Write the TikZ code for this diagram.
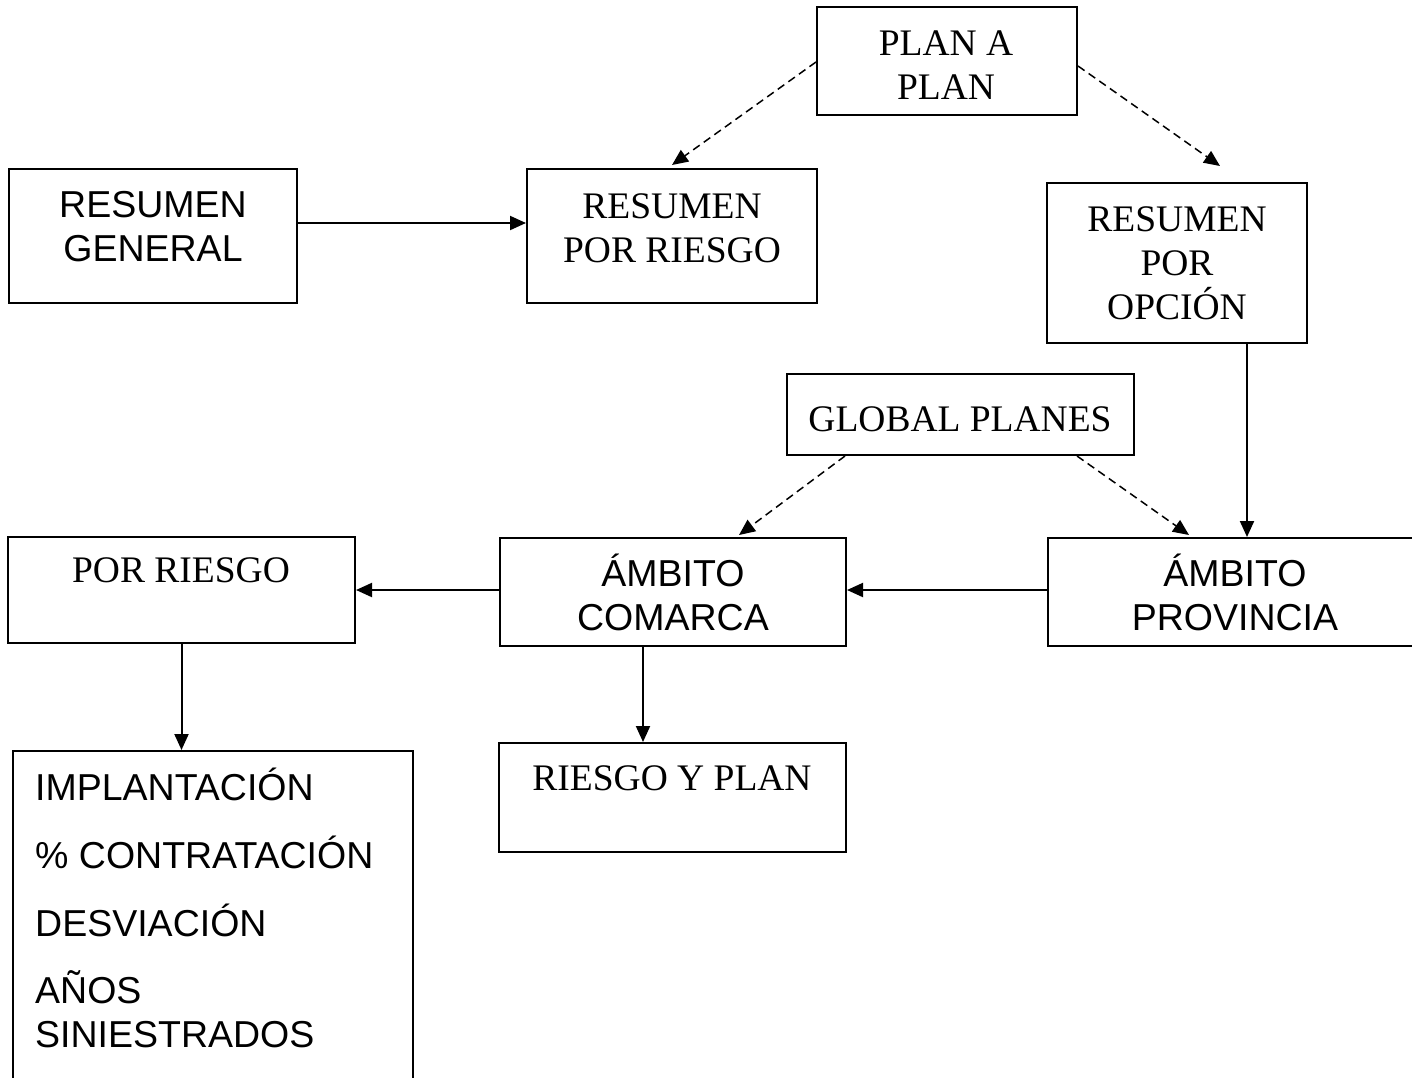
\documentclass[tikz,border=0pt]{standalone}
\usepackage{fontspec}
\setmainfont{Liberation Serif}
\setsansfont{Liberation Sans}
\usetikzlibrary{arrows.meta}
\begin{document}
\begin{tikzpicture}[x=1pt,y=-1pt,
  box/.style={draw=black,line width=2pt,rectangle,inner sep=0pt,fill=none},
  serif/.style={font=\fontsize{37.5}{44}\selectfont\rmfamily,inner sep=0pt,align=center,anchor=base},
  sans/.style={font=\fontsize{37.5}{44}\selectfont\sffamily,inner sep=0pt,align=center,anchor=base},
  arr/.style={line width=2pt,-{Triangle[length=16pt,width=14pt]}},
  darr/.style={line width=1.5pt,dash pattern=on 8pt off 5pt,-{Triangle[length=16pt,width=14pt]}}]
\useasboundingbox (0,0) rectangle (1412,1077);
\fill[white] (0,0) rectangle (1412,1077);

% boxes
\node[box,minimum width=260pt,minimum height=108pt] (plan) at (947,61) {};
\node[box,minimum width=288pt,minimum height=134pt] (rg) at (153,236) {};
\node[box,minimum width=290pt,minimum height=134pt] (rpr) at (672,236) {};
\node[box,minimum width=260pt,minimum height=160pt] (rpo) at (1177,263) {};
\node[box,minimum width=347pt,minimum height=81pt] (gp) at (960.5,414.5) {};
\node[box,minimum width=347pt,minimum height=106pt] (pr) at (181.5,590) {};
\node[box,minimum width=346pt,minimum height=108pt] (ac) at (673,592) {};
\node[box,minimum width=382pt,minimum height=108pt] (ap) at (1239,592) {};
\node[box,minimum width=400pt,minimum height=349pt] (imp) at (213,925.5) {};
\node[box,minimum width=347pt,minimum height=109pt] (ryp) at (672.5,797.5) {};

% texts (base anchor = last line's baseline)
\node[serif] (plant) at (946,99) {PLAN A\\PLAN};
\node[sans] (rgt) at (153,261) {RESUMEN\\GENERAL};
\node[serif] (rprt) at (672,262) {RESUMEN\\POR RIESGO};
\node[serif] (rpot) at (1177,319) {RESUMEN\\POR\\OPCIÓN};
\node[serif] (gpt) at (960,431) {GLOBAL PLANES};
\node[serif] (prt) at (181,582) {POR RIESGO};
\node[sans] (act) at (673,630) {ÁMBITO\\COMARCA};
\node[sans] (apt) at (1235,630) {ÁMBITO\\PROVINCIA};
\node[serif] (rypt) at (672,790) {RIESGO Y PLAN};
\node[sans,align=left,anchor=base west] (impt) at (35,1047)
  {IMPLANTACIÓN\\[24pt]\% CONTRATACIÓN\\[24pt]DESVIACIÓN\\[23pt]AÑOS\\SINIESTRADOS};

% connectors
\draw[arr] ([yshift=13pt]rg.east) -- ([yshift=13pt]rpr.west);
\draw[darr] ([yshift=-1pt]plan.west) -- ([yshift=3pt]rpr.north);
\draw[darr] ([yshift=-5pt]plan.east) -- ([xshift=43pt,yshift=16pt]rpo.north);
\draw[arr] ([xshift=70pt]rpo.south) -- ([xshift=70pt]rpo.south |- ap.north);
\draw[darr] ([xshift=-115.5pt]gp.south) -- ([xshift=66pt,yshift=2pt]ac.north);
\draw[darr] ([xshift=116.5pt]gp.south) -- ([xshift=-50pt,yshift=2pt]ap.north);
\draw[arr] ([yshift=2pt]ap.west) -- ([yshift=2pt]ac.east);
\draw[arr] ([yshift=2pt]ac.west) -- (pr.east);
\draw[arr] (pr.south) -- (pr.south |- imp.north);
\draw[arr] ([xshift=-30pt]ac.south) -- ([xshift=-30pt]ac.south |- ryp.north);
\end{tikzpicture}
\end{document}
